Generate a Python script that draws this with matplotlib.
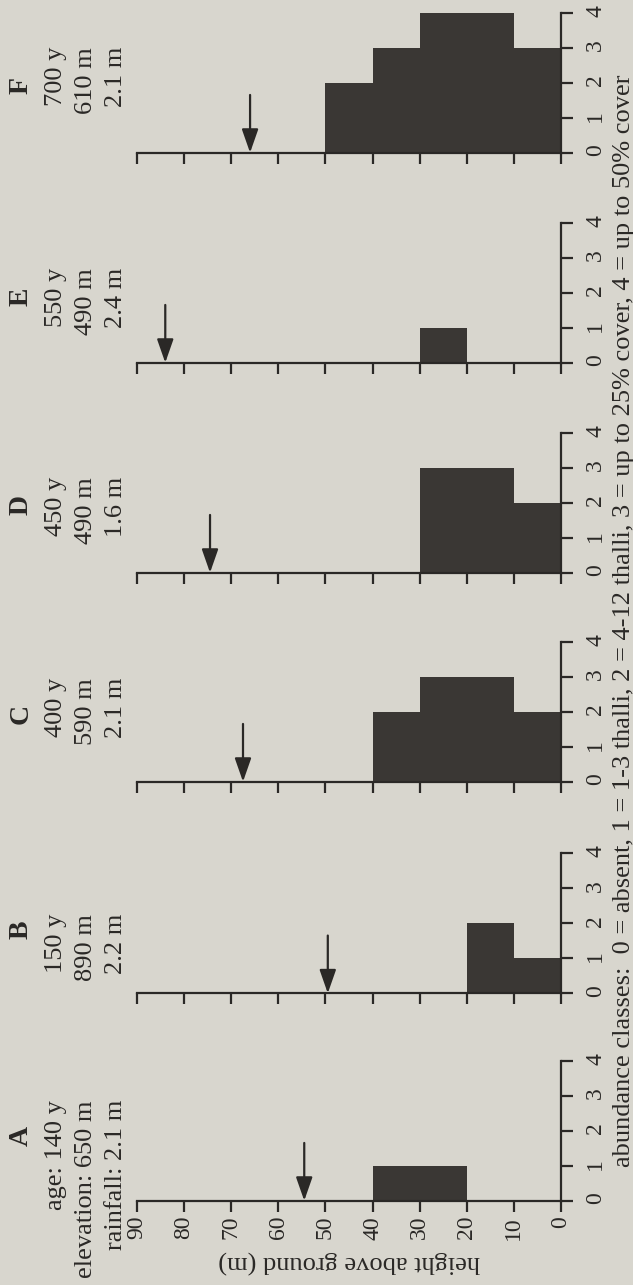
import matplotlib.pyplot as plt

panels = ['A', 'B', 'C', 'D', 'E', 'F']
ages = ['age: 140 y', '150 y', '400 y', '450 y', '550 y', '700 y']
elevations = ['elevation: 650 m', '890 m', '590 m', '490 m', '490 m', '610 m']
rainfall = ['rainfall: 2.1 m', '2.2 m', '2.1 m', '1.6 m', '2.4 m', '2.1 m']

bin_lo = [0, 10, 20, 30, 40]          # height classes (m), 10 m wide
abund_A = [0, 0, 1, 1, 0]
abund_B = [1, 2, 0, 0, 0]
abund_C = [2, 3, 3, 2, 0]
abund_D = [2, 3, 3, 0, 0]
abund_E = [0, 0, 1, 0, 0]
abund_F = [3, 4, 4, 3, 2]
abundances = [abund_A, abund_B, abund_C, abund_D, abund_E, abund_F]

arrow_height = [54.5, 49.5, 67.5, 74.5, 84, 66]   # marked height (m)

height_ticks = list(range(0, 100, 10))
abund_ticks = [0, 1, 2, 3, 4]
xlabel = 'height above ground (m)'
note = ('abundance classes:  0 = absent, 1 = 1-3 thalli, 2 = 4-12 thalli, '
        '3 = up to 25% cover, 4 = up to 50% cover')

# layout (pixels in the 633 x 1285 picture)
W, H = 633, 1285
bg = '#d8d6ce'
ink = '#2a2826'
bar_col = '#3a3734'
serif = ['Liberation Serif', 'DejaVu Serif']

baselines = [1200.7, 993.3, 781.7, 572.7, 362.7, 152.7]
text_end = [1100, 914, 678, 477, 268, 47]
letter_y = [1136, 930, 714, 505, 297, 86]
x0, x90 = 561, 137
unit_px = 35


def fx(px):
    return px / W


def fy(py):
    return 1 - py / H


fig = plt.figure(figsize=(W / 100, H / 100), dpi=100, facecolor=bg)

for i, name in enumerate(panels):
    base = baselines[i]
    ax = fig.add_axes([fx(x90), fy(base), fx(x0) - fx(x90), 4 * unit_px / H])
    ax.patch.set_visible(False)
    ax.set_xlim(90, 0)
    ax.set_ylim(0, 4)
    for s in ['top', 'left']:
        ax.spines[s].set_visible(False)
    for s in ['bottom', 'right']:
        ax.spines[s].set_linewidth(1.6)
        ax.spines[s].set_color(ink)
        ax.spines[s].set_clip_on(False)

    ax.bar(bin_lo, abundances[i], width=10, align='edge', color=bar_col,
           linewidth=0, zorder=1)

    ax.annotate('', xy=(arrow_height[i], 0), xytext=(arrow_height[i], 1.65),
                arrowprops=dict(arrowstyle='-|>,head_length=0.4,head_width=0.14',
                                mutation_scale=36, lw=1.6, color=ink,
                                shrinkA=0, shrinkB=0))

    ax.set_xticks(height_ticks)
    ax.yaxis.tick_right()
    ax.set_yticks(abund_ticks)
    ax.tick_params(axis='x', direction='out', length=8, width=1.6, color=ink,
                   labelrotation=90, labelsize=17, pad=3, labelcolor=ink)
    ax.tick_params(axis='y', direction='out', length=8.5, width=1.6, color=ink,
                   labelrotation=90, labelsize=17, pad=9, labelcolor=ink)
    for lab in ax.get_xticklabels() + ax.get_yticklabels():
        lab.set_family(serif)
    if i > 0:
        ax.set_xticklabels([])

    # panel header: letter and site data, read bottom-to-top
    fig.text(fx(28), fy(letter_y[i]), name, rotation=90, rotation_mode='anchor',
             ha='center', va='baseline', fontsize=20, fontweight='bold',
             family=serif, color=ink)
    for xb, s in zip([62, 92, 122], [ages[i], elevations[i], rainfall[i]]):
        fig.text(fx(xb), fy(text_end[i]), s, rotation=90, rotation_mode='anchor',
                 ha='right', va='baseline', fontsize=19, family=serif, color=ink)

fig.text(fx(349), fy(1255), xlabel, rotation=180, rotation_mode='anchor',
         ha='center', va='baseline', fontsize=19, family=serif, color=ink)
fig.text(fx(630), fy(1167), note, rotation=90, rotation_mode='anchor',
         ha='left', va='baseline', fontsize=19, family=serif, color=ink)

fig.savefig('out.png', dpi=100, facecolor=bg)
